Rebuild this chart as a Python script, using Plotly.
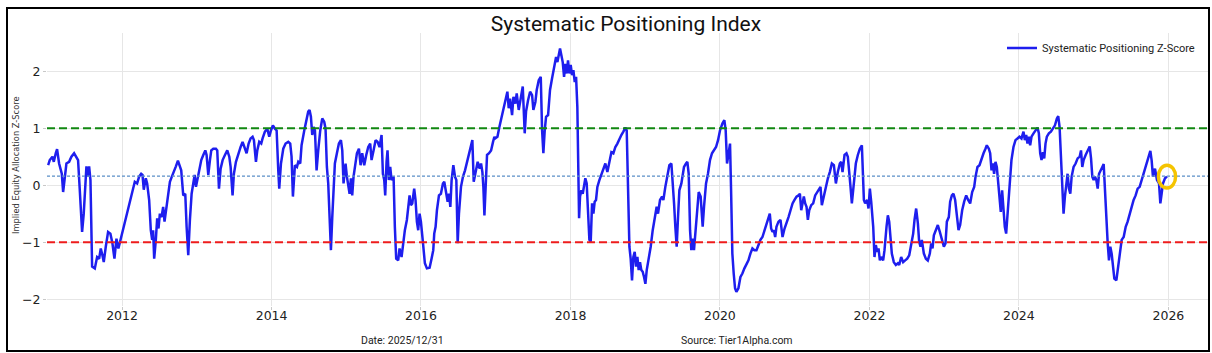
import pandas as pd
import plotly.graph_objects as go

# ---------------- text ----------------
TITLE = "Systematic Positioning Index"
SERIES_NAME = "Systematic Positioning Z-Score"
Y_LABEL = "Implied Equity Allocation Z-Score"
DATE_NOTE = "Date: 2025/12/31"
SOURCE_NOTE = "Source: Tier1Alpha.com"

# ---------------- reference levels / ticks ----------------
UPPER_BAND = 1.0
LOWER_BAND = -1.0
MEAN_LEVEL = 0.16
Y_TICKS = [-2, -1, 0, 1, 2]

# ---------------- data (decimal years, z-score) ----------------
DATES_2011_2013 = [
    2011.010, 2011.032, 2011.068, 2011.086, 2011.112, 2011.130, 2011.157, 2011.179, 2011.193, 2011.211,
    2011.233, 2011.255, 2011.291, 2011.322, 2011.358, 2011.389, 2011.411, 2011.434, 2011.452, 2011.465,
    2011.487, 2011.505, 2011.523, 2011.541, 2011.559, 2011.577, 2011.599, 2011.635, 2011.666, 2011.693,
    2011.715, 2011.737, 2011.755, 2011.782, 2011.813, 2011.844, 2011.871, 2011.898, 2011.925, 2011.951,
    2011.978, 2012.005, 2012.036, 2012.067, 2012.103, 2012.139, 2012.170, 2012.201, 2012.228, 2012.255,
    2012.273, 2012.290, 2012.317, 2012.335, 2012.362, 2012.384, 2012.402, 2012.415, 2012.429, 2012.451,
    2012.469, 2012.487, 2012.505, 2012.527, 2012.549, 2012.567, 2012.585, 2012.612, 2012.639, 2012.665,
    2012.692, 2012.719, 2012.746, 2012.763, 2012.790, 2012.817, 2012.844, 2012.862, 2012.884, 2012.906,
    2012.929, 2012.951, 2012.969, 2012.987, 2013.004, 2013.031, 2013.058, 2013.085, 2013.112, 2013.129,
    2013.152, 2013.174, 2013.192, 2013.219, 2013.254, 2013.272, 2013.295, 2013.317, 2013.344, 2013.375,
    2013.406, 2013.433, 2013.451, 2013.477, 2013.495, 2013.522, 2013.553, 2013.585, 2013.611, 2013.638,
    2013.665, 2013.692, 2013.718, 2013.745, 2013.763, 2013.790, 2013.808, 2013.834, 2013.861, 2013.879,
    2013.910, 2013.942, 2013.968,
]
Z_2011_2013 = [
    0.35, 0.44, 0.50, 0.41, 0.56, 0.63, 0.38, 0.26, 0.20, -0.12,
    0.18, 0.38, 0.41, 0.50, 0.56, 0.50, 0.44, -0.09, -0.50, -0.82,
    -0.50, 0.03, 0.33, 0.15, 0.33, 0.09, -1.43, -1.46, -1.26, -1.29,
    -1.11, -1.23, -1.35, -1.08, -0.82, -0.85, -1.02, -1.29, -0.94, -1.11,
    -0.96, -0.85, -0.64, -0.50, -0.26, -0.06, 0.06, 0.03, 0.15, 0.20,
    0.18, -0.08, 0.12, 0.03, -0.26, -0.79, -0.96, -0.79, -1.29, -0.96,
    -0.58, -0.76, -0.50, -0.56, -0.38, -0.64, -0.44, -0.20, 0.06, 0.15,
    0.23, 0.33, 0.43, 0.37, 0.26, -0.18, -0.15, -0.73, -1.23, -0.61,
    -0.15, 0.03, 0.18, -0.03, 0.09, 0.29, 0.44, 0.53, 0.61, 0.53,
    0.18, 0.44, 0.61, 0.64, 0.64, 0.61, -0.06, 0.29, 0.44, 0.53,
    0.61, 0.50, 0.32, -0.18, 0.20, 0.41, 0.56, 0.67, 0.76, 0.64,
    0.56, 0.73, 0.82, 0.85, 0.79, 0.41, 0.61, 0.76, 0.73, 0.82,
    0.94, 0.99, 0.85,
]

DATES_2014_2016 = [
    2013.991, 2014.017, 2014.044, 2014.067, 2014.089, 2014.102, 2014.125, 2014.156, 2014.187, 2014.223,
    2014.249, 2014.267, 2014.285, 2014.312, 2014.339, 2014.357, 2014.383, 2014.401, 2014.437, 2014.464,
    2014.490, 2014.508, 2014.526, 2014.544, 2014.562, 2014.580, 2014.602, 2014.624, 2014.651, 2014.678,
    2014.705, 2014.722, 2014.740, 2014.758, 2014.776, 2014.794, 2014.812, 2014.829, 2014.847, 2014.874,
    2014.901, 2014.928, 2014.946, 2014.963, 2014.990, 2015.008, 2015.026, 2015.044, 2015.062, 2015.079,
    2015.097, 2015.115, 2015.142, 2015.169, 2015.191, 2015.213, 2015.240, 2015.267, 2015.294, 2015.320,
    2015.338, 2015.365, 2015.392, 2015.418, 2015.445, 2015.472, 2015.490, 2015.508, 2015.521, 2015.539,
    2015.552, 2015.570, 2015.588, 2015.606, 2015.633, 2015.650, 2015.668, 2015.695, 2015.713, 2015.740,
    2015.758, 2015.784, 2015.811, 2015.829, 2015.847, 2015.865, 2015.883, 2015.909, 2015.927, 2015.945,
    2015.963, 2015.981, 2015.999, 2016.025, 2016.052, 2016.079, 2016.115, 2016.141, 2016.164, 2016.177,
    2016.195, 2016.213, 2016.240, 2016.266, 2016.293, 2016.311, 2016.333, 2016.356, 2016.374, 2016.392,
    2016.409, 2016.432, 2016.454, 2016.472, 2016.490, 2016.507, 2016.534, 2016.561, 2016.588, 2016.614,
    2016.641, 2016.668, 2016.686, 2016.704, 2016.730, 2016.757, 2016.784, 2016.802, 2016.820, 2016.833,
    2016.847, 2016.864, 2016.882, 2016.909, 2016.936, 2016.962, 2016.980,
]
Z_2014_2016 = [
    0.96, 1.05, 0.99, 0.96, 0.26, -0.06, 0.38, 0.64, 0.73, 0.76,
    0.73, 0.50, -0.20, 0.35, 0.32, 0.41, 0.38, 0.70, 0.96, 1.14,
    1.29, 1.32, 1.20, 0.88, 1.02, 0.96, 0.26, 0.61, 0.96, 1.17,
    1.11, 0.99, 0.32, 0.03, -0.50, -1.14, -0.56, 0.03, 0.38, 0.56,
    0.73, 0.79, 0.61, 0.03, 0.38, 0.15, -0.03, -0.15, 0.12, -0.18,
    0.15, 0.32, 0.56, 0.64, 0.35, 0.56, 0.35, 0.53, 0.67, 0.73,
    0.44, 0.61, 0.79, 0.76, 0.67, 0.88, 0.20, 0.09, -0.18, 0.41,
    0.61, 0.09, 0.32, 0.09, 0.15, -0.73, -1.29, -1.32, -1.11, -1.26,
    -1.02, -0.79, -0.61, -0.38, -0.18, -0.35, -0.32, -0.06, -0.26, -0.64,
    -0.79, -0.50, -0.64, -0.99, -1.37, -1.46, -1.45, -1.29, -1.14, -0.85,
    -0.73, -0.44, -0.18, -0.15, 0.03, 0.06, -0.15, -0.29, -0.15, -0.38,
    0.09, 0.35, 0.15, 0.09, -1.02, -0.50, -0.03, 0.15, 0.26, 0.41,
    0.56, 0.70, 0.79, 0.06, 0.23, 0.41, 0.29, 0.38, 0.23, -0.03,
    -0.53, -0.03, 0.53, 0.56, 0.61, 0.76, 0.85,
]

DATES_2017_2019 = [
    2016.989, 2017.021, 2017.047, 2017.078, 2017.110, 2017.137, 2017.154, 2017.172, 2017.190, 2017.217,
    2017.235, 2017.261, 2017.279, 2017.306, 2017.333, 2017.360, 2017.386, 2017.404, 2017.431, 2017.458,
    2017.485, 2017.502, 2017.529, 2017.547, 2017.574, 2017.601, 2017.619, 2017.636, 2017.654, 2017.672,
    2017.699, 2017.725, 2017.752, 2017.779, 2017.806, 2017.824, 2017.842, 2017.859, 2017.877, 2017.895,
    2017.913, 2017.931, 2017.949, 2017.966, 2017.984, 2018.002, 2018.020, 2018.038, 2018.056, 2018.074,
    2018.091, 2018.100, 2018.114, 2018.127, 2018.145, 2018.163, 2018.180, 2018.198, 2018.216, 2018.234,
    2018.252, 2018.270, 2018.288, 2018.306, 2018.323, 2018.341, 2018.359, 2018.386, 2018.413, 2018.440,
    2018.466, 2018.493, 2018.520, 2018.547, 2018.573, 2018.600, 2018.627, 2018.654, 2018.680, 2018.707,
    2018.734, 2018.752, 2018.770, 2018.788, 2018.805, 2018.823, 2018.841, 2018.859, 2018.877, 2018.895,
    2018.912, 2018.930, 2018.948, 2018.966, 2018.984, 2019.002, 2019.020, 2019.046, 2019.073, 2019.100,
    2019.127, 2019.153, 2019.171, 2019.198, 2019.225, 2019.243, 2019.269, 2019.296, 2019.323, 2019.350,
    2019.368, 2019.386, 2019.403, 2019.421, 2019.439, 2019.457, 2019.484, 2019.501, 2019.519, 2019.546,
    2019.564, 2019.582, 2019.600, 2019.617, 2019.635, 2019.653, 2019.671, 2019.689, 2019.716, 2019.742,
    2019.769, 2019.787, 2019.814, 2019.840, 2019.867, 2019.894, 2019.921, 2019.948, 2019.975, 2020.001,
]
Z_2017_2019 = [
    0.82, 0.85, 1.02, 1.20, 1.35, 1.52, 1.64, 1.35, 1.52, 1.23,
    1.55, 1.43, 1.61, 1.32, 1.55, 1.73, 0.91, 1.29, 1.49, 1.64,
    1.58, 1.32, 1.46, 1.67, 1.84, 1.90, 0.96, 0.56, 0.96, 1.20,
    1.23, 1.67, 1.87, 2.08, 2.25, 2.16, 2.31, 2.40, 2.28, 2.16,
    1.90, 2.13, 1.96, 2.19, 1.96, 2.11, 1.93, 2.02, 1.81, 1.90,
    1.37, 0.20, -0.58, -0.20, -0.09, -0.15, 0.03, 0.12, 0.03, -0.64,
    -0.96, -0.99, -0.32, -0.50, -0.29, -0.26, -0.03, 0.09, 0.18, 0.29,
    0.38, 0.23, 0.44, 0.58, 0.56, 0.67, 0.73, 0.82, 0.88, 0.94,
    1.01, 0.96, -0.03, -1.08, -1.29, -1.67, -1.26, -1.17, -1.43, -1.26,
    -1.49, -1.35, -1.49, -1.52, -1.61, -1.73, -1.49, -1.32, -1.08, -0.79,
    -0.56, -0.38, -0.50, -0.26, -0.20, -0.26, -0.03, 0.20, 0.35, 0.38,
    0.09, -0.32, -0.73, -1.08, -0.56, -0.09, 0.03, 0.20, 0.32, 0.38,
    0.41, 0.20, -0.79, -1.14, -0.94, -1.14, -0.85, -0.44, -0.12, -0.20,
    -0.73, -0.38, 0.03, 0.20, 0.44, 0.56, 0.61, 0.67, 0.79, 0.96,
]

DATES_2020_2022 = [
    2020.033, 2020.059, 2020.077, 2020.095, 2020.113, 2020.135, 2020.149, 2020.166, 2020.184, 2020.202,
    2020.220, 2020.247, 2020.274, 2020.300, 2020.327, 2020.354, 2020.381, 2020.407, 2020.434, 2020.461,
    2020.488, 2020.515, 2020.541, 2020.568, 2020.595, 2020.622, 2020.648, 2020.666, 2020.684, 2020.702,
    2020.720, 2020.738, 2020.755, 2020.782, 2020.809, 2020.836, 2020.863, 2020.889, 2020.916, 2020.943,
    2020.970, 2020.996, 2021.023, 2021.050, 2021.068, 2021.086, 2021.103, 2021.121, 2021.139, 2021.157,
    2021.175, 2021.193, 2021.220, 2021.246, 2021.273, 2021.300, 2021.327, 2021.344, 2021.362, 2021.389,
    2021.416, 2021.443, 2021.469, 2021.496, 2021.523, 2021.550, 2021.576, 2021.603, 2021.621, 2021.639,
    2021.666, 2021.692, 2021.710, 2021.728, 2021.746, 2021.764, 2021.782, 2021.800, 2021.817, 2021.844,
    2021.871, 2021.898, 2021.916, 2021.925, 2021.942, 2021.969, 2021.987, 2022.005, 2022.023, 2022.050,
    2022.067, 2022.085, 2022.103, 2022.121, 2022.139, 2022.157, 2022.183, 2022.201, 2022.228, 2022.246,
    2022.264, 2022.281, 2022.299, 2022.326, 2022.353, 2022.380, 2022.398, 2022.424, 2022.451, 2022.478,
    2022.505, 2022.532, 2022.558, 2022.585, 2022.603, 2022.625, 2022.648, 2022.665, 2022.683, 2022.701,
    2022.728, 2022.755, 2022.781, 2022.808, 2022.826, 2022.844, 2022.862, 2022.888, 2022.915, 2022.942,
    2022.969, 2022.996,
]
Z_2020_2022 = [
    1.08, 1.14, 0.96, 0.38, 0.53, 0.73, -0.09, -1.20, -1.55, -1.81,
    -1.87, -1.81, -1.61, -1.55, -1.46, -1.40, -1.32, -1.20, -1.11, -1.14,
    -1.14, -1.05, -0.96, -0.91, -0.79, -0.67, -0.56, -0.50, -0.76, -0.82,
    -0.79, -0.91, -0.73, -0.64, -0.61, -0.91, -0.76, -0.64, -0.56, -0.44,
    -0.32, -0.26, -0.20, -0.18, -0.15, -0.44, -0.32, -0.20, -0.32, -0.38,
    -0.61, -0.44, -0.35, -0.32, -0.18, -0.12, -0.06, -0.03, -0.35, -0.20,
    0.00, 0.12, 0.23, 0.38, 0.35, 0.03, 0.23, 0.38, 0.41, 0.23,
    0.53, 0.56, 0.50, 0.15, -0.03, -0.32, -0.03, 0.20, 0.38, 0.53,
    0.64, 0.70, 0.20, -0.26, -0.32, -0.26, -0.41, -0.06, -0.29, -0.73,
    -1.26, -1.05, -1.17, -1.11, -1.32, -1.26, -1.32, -1.14, -0.73, -0.53,
    -0.64, -0.96, -1.20, -1.35, -1.40, -1.37, -1.40, -1.26, -1.35, -1.32,
    -1.29, -1.23, -1.02, -0.85, -0.61, -0.41, -0.67, -0.99, -1.08, -0.96,
    -1.20, -1.29, -1.32, -1.20, -1.02, -1.11, -0.88, -0.79, -0.70, -0.82,
    -0.96, -1.08,
]

DATES_2023_2025 = [
    2023.018, 2023.036, 2023.062, 2023.080, 2023.103, 2023.125, 2023.147, 2023.170, 2023.192, 2023.214,
    2023.241, 2023.268, 2023.295, 2023.321, 2023.348, 2023.375, 2023.402, 2023.420, 2023.446, 2023.473,
    2023.500, 2023.527, 2023.553, 2023.571, 2023.598, 2023.616, 2023.634, 2023.651, 2023.669, 2023.687,
    2023.705, 2023.723, 2023.741, 2023.758, 2023.776, 2023.794, 2023.812, 2023.830, 2023.848, 2023.866,
    2023.883, 2023.901, 2023.928, 2023.955, 2023.982, 2024.008, 2024.035, 2024.062, 2024.080, 2024.098,
    2024.115, 2024.133, 2024.151, 2024.169, 2024.196, 2024.223, 2024.249, 2024.267, 2024.285, 2024.303,
    2024.321, 2024.339, 2024.356, 2024.374, 2024.401, 2024.428, 2024.455, 2024.482, 2024.508, 2024.526,
    2024.544, 2024.562, 2024.580, 2024.597, 2024.615, 2024.633, 2024.651, 2024.669, 2024.687, 2024.705,
    2024.731, 2024.758, 2024.785, 2024.812, 2024.830, 2024.847, 2024.865, 2024.892, 2024.919, 2024.946,
    2024.964, 2024.981, 2024.999, 2025.017, 2025.035, 2025.053, 2025.071, 2025.088, 2025.115, 2025.133,
    2025.151, 2025.169, 2025.187, 2025.204, 2025.222, 2025.240, 2025.258, 2025.276, 2025.303, 2025.320,
    2025.338, 2025.356, 2025.374, 2025.401, 2025.428, 2025.454, 2025.481, 2025.508, 2025.534, 2025.561,
    2025.588, 2025.615, 2025.642, 2025.668, 2025.695, 2025.722, 2025.758, 2025.775, 2025.793, 2025.820,
    2025.847, 2025.874, 2025.892, 2025.909, 2025.927, 2025.954, 2025.981,
]
Z_2023_2025 = [
    -1.02, -0.64, -0.56, -0.29, -0.18, -0.15, -0.26, -0.50, -0.79, -0.70,
    -0.44, -0.29, -0.18, -0.26, -0.32, -0.12, -0.03, 0.15, 0.32, 0.35,
    0.47, 0.56, 0.64, 0.70, 0.64, 0.56, 0.26, 0.38, 0.20, 0.41,
    0.32, 0.03, -0.35, -0.47, -0.09, -0.44, -0.73, -0.85, -0.50, -0.18,
    0.20, 0.44, 0.67, 0.79, 0.82, 0.85, 0.82, 0.94, 0.79, 0.88,
    0.73, 0.85, 0.70, 0.85, 0.91, 0.96, 1.01, 0.91, 0.56, 0.44,
    0.58, 0.47, 0.73, 0.85, 0.91, 0.94, 0.99, 1.05, 1.17, 1.21,
    1.02, 0.44, 0.03, -0.50, -0.20, 0.03, 0.20, -0.06, -0.15, 0.15,
    0.32, 0.38, 0.47, 0.50, 0.61, 0.32, 0.44, 0.53, 0.61, 0.68,
    0.47, 0.15, 0.09, 0.15, 0.09, -0.06, 0.20, 0.26, 0.32, 0.37,
    -0.09, -0.73, -1.02, -1.32, -1.08, -1.20, -1.43, -1.64, -1.67, -1.49,
    -1.26, -1.14, -0.96, -0.91, -0.73, -0.64, -0.50, -0.41, -0.26, -0.18,
    -0.06, -0.03, 0.09, 0.18, 0.29, 0.44, 0.60, 0.44, 0.15, 0.29,
    0.09, 0.03, -0.32, -0.15, 0.03, 0.12, 0.15,
]

X_RANGE_DEC = [2010.995, 2026.53]
Y_RANGE = [-2.12, 2.67]

# ---------------- assemble ----------------
blocks = [
    (DATES_2011_2013, Z_2011_2013),
    (DATES_2014_2016, Z_2014_2016),
    (DATES_2017_2019, Z_2017_2019),
    (DATES_2020_2022, Z_2020_2022),
    (DATES_2023_2025, Z_2023_2025),
]
dec_dates, zscore = [], []
for d, z in blocks:
    assert len(d) == len(z), (len(d), len(z))
    dec_dates += d
    zscore += z


def dec_to_ts(v):
    yr = int(v)
    start = pd.Timestamp(year=yr, month=1, day=1)
    end = pd.Timestamp(year=yr + 1, month=1, day=1)
    return start + (end - start) * (v - yr)


dates = [dec_to_ts(v) for v in dec_dates]


def fmt(ts):
    return ts.strftime("%Y-%m-%d %H:%M")


# ---------------- geometry (pixel layout) ----------------
W, H = 1212, 353
ML, MR, MT, MB = 47, 4, 33, 47
PW = W - ML - MR
PH = H - MT - MB


def px_to_paper_x(px):
    return (px - ML) / PW


def px_to_paper_y(py):
    return (H - MB - py) / PH


TXT_FONT = "Roboto, 'Noto Sans', sans-serif"
TICK_FONT = "DejaVu Sans, sans-serif"

fig = go.Figure()
fig.add_trace(go.Scatter(
    x=[fmt(t) for t in dates], y=zscore, mode="lines", name=SERIES_NAME,
    line=dict(color="#1e1eee", width=2.5),
))

fig.add_hline(y=UPPER_BAND, line=dict(color="#118811", width=2, dash="8px,4px"))
fig.add_hline(y=LOWER_BAND, line=dict(color="#ee1c1c", width=2, dash="8px,4px"))
fig.add_hline(y=MEAN_LEVEL, line=dict(color="#5a8fc8", width=1.2, dash="3px,2px"))

# highlight last reading
last_t, last_z = dates[-1], zscore[-1]
fig.add_shape(
    type="circle", xref="x", yref="y",
    x0=fmt(last_t - pd.Timedelta(days=42)), x1=fmt(last_t + pd.Timedelta(days=42)),
    y0=last_z - 0.20, y1=last_z + 0.20,
    line=dict(color="#f5c400", width=3.5),
)

# outer frame
fig.add_shape(
    type="rect", xref="paper", yref="paper",
    x0=px_to_paper_x(7), x1=px_to_paper_x(1209),
    y0=px_to_paper_y(351), y1=px_to_paper_y(8),
    line=dict(color="black", width=2),
)

fig.add_annotation(
    text=Y_LABEL, xref="paper", yref="paper", x=px_to_paper_x(16), y=px_to_paper_y(165),
    textangle=-90, showarrow=False, xanchor="center", yanchor="middle",
    font=dict(family=TICK_FONT, size=8.3, color="#333"),
)
fig.add_annotation(
    text=DATE_NOTE, xref="paper", yref="paper", x=px_to_paper_x(402), y=px_to_paper_y(340),
    showarrow=False, xanchor="center", yanchor="middle",
    font=dict(family=TXT_FONT, size=10.5, color="#222"),
)
fig.add_annotation(
    text=SOURCE_NOTE, xref="paper", yref="paper", x=px_to_paper_x(737), y=px_to_paper_y(340),
    showarrow=False, xanchor="center", yanchor="middle",
    font=dict(family=TXT_FONT, size=10.5, color="#222"),
)

axis_common = dict(
    showgrid=True, gridcolor="#e6e6e6", gridwidth=0.8,
    ticks="outside", ticklen=3, tickcolor="#c8c8c8",
    zeroline=False, showline=False,
    tickfont=dict(family=TICK_FONT, size=12.5, color="#222"),
)

fig.update_layout(
    width=W, height=H,
    margin=dict(l=ML, r=MR, t=MT, b=MB),
    paper_bgcolor="white", plot_bgcolor="white",
    title=dict(text=TITLE, x=px_to_paper_x(626), xref="paper", xanchor="center",
               y=1 - 24 / H, yref="container", yanchor="middle",
               font=dict(family=TXT_FONT, size=21, color="#111")),
    showlegend=True,
    legend=dict(x=px_to_paper_x(1200), y=px_to_paper_y(48), xanchor="right", yanchor="middle",
                bgcolor="rgba(0,0,0,0)", font=dict(family=TXT_FONT, size=11, color="#222")),
    xaxis=dict(type="date", range=[fmt(dec_to_ts(X_RANGE_DEC[0])), fmt(dec_to_ts(X_RANGE_DEC[1]))],
               tick0="2012-01-01", dtick="M24", tickformat="%Y", ticklabelstandoff=-5,
               **axis_common),
    yaxis=dict(range=Y_RANGE, tickmode="array", tickvals=Y_TICKS, **axis_common),
)

fig.write_html("out.html")
